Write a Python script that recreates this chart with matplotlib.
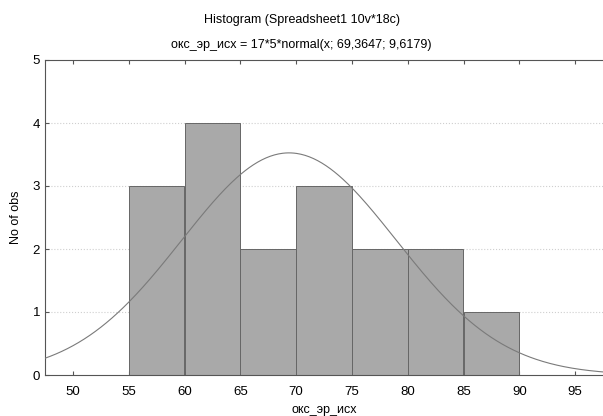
import numpy as np
import matplotlib
matplotlib.use("Agg")
import matplotlib.pyplot as plt

plt.rcParams['font.family'] = ['Liberation Sans', 'DejaVu Sans']

bin_edges = [55, 60, 65, 70, 75, 80, 85, 90]
counts = [3, 4, 2, 3, 2, 2, 1]
n_obs = 17
bin_width = 5
mu = 69.3647
sigma = 9.6179
xticks = [50, 55, 60, 65, 70, 75, 80, 85, 90, 95]
yticks = [0, 1, 2, 3, 4, 5]

fig = plt.figure(figsize=(6.03, 4.16), dpi=100)
ax = fig.add_axes([45/603, 41/416, 1 - 45/603, 315/416])

ax.bar(bin_edges[:-1], counts, width=bin_width, align='edge',
       color='#a9a9a9', edgecolor='#666666', linewidth=0.7, zorder=2)

xs = np.linspace(47.5, 97.5, 400)
ys = n_obs * bin_width * np.exp(-0.5 * ((xs - mu) / sigma) ** 2) / (sigma * np.sqrt(2 * np.pi))
ax.plot(xs, ys, color='#7a7a7a', linewidth=0.8, zorder=3)

ax.set_xlim(47.5, 97.5)
ax.set_ylim(0, 5)
ax.set_xticks(xticks)
ax.set_yticks(yticks)
for y in yticks[1:-1]:
    ax.axhline(y, color='#cfcfcf', linestyle=':', linewidth=0.8, zorder=1)

ax.tick_params(direction='in', length=3, labelsize=9.5, color='#555555', top=True)
ax.tick_params(axis='x', pad=8)
for s in ['left', 'bottom', 'top']:
    ax.spines[s].set_color('#555555')
    ax.spines[s].set_linewidth(0.8)
ax.spines['right'].set_visible(False)

ax.set_xlabel('окс_эр_исх', fontsize=9, labelpad=4)
ax.set_ylabel('No of obs', fontsize=9, labelpad=8)

fig.text(0.5, 1 - 20/416, 'Histogram (Spreadsheet1 10v*18c)', ha='center', va='center', fontsize=9)
fig.text(0.5, 1 - 45/416, 'окс_эр_исх = 17*5*normal(x; 69,3647; 9,6179)', ha='center', va='center', fontsize=9)

fig.savefig('out.png', dpi=100)
